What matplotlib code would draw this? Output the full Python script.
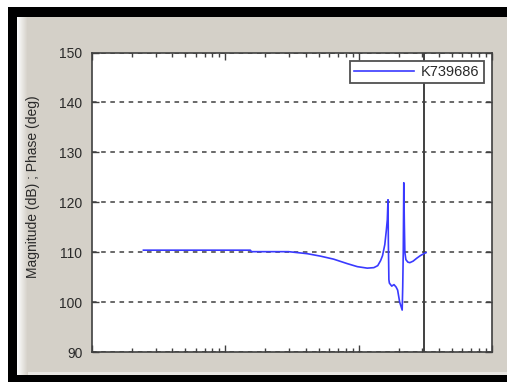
import matplotlib
matplotlib.use("Agg")
import matplotlib.pyplot as plt
from matplotlib.patches import Rectangle
import numpy as np

# ---- data ----
freq = [2.43, 15.4, 15.7, 29.8, 41.1, 51.8, 64.9, 82.2, 97.7, 116, 130, 139, 146,
        151, 157, 161, 164, 166, 167, 168.5, 170, 177, 184, 191, 196, 203, 212,
        214, 216, 218, 220, 222, 226, 234, 242, 256, 273, 290, 308, 320]
mag = [110.4, 110.4, 110.1, 110.1, 109.7, 109.2, 108.6, 107.7, 107.1, 106.8, 106.9,
       107.3, 108.3, 109.3, 111.5, 114.2, 116.5, 120.5, 112.0, 104.5, 103.8, 103.2,
       103.5, 103.0, 102.4, 100.0, 98.4, 103.0, 110.0, 123.9, 116.0, 110.0, 108.5,
       108.0, 107.9, 108.2, 108.8, 109.3, 109.7, 109.9]
series_name = "K739686"
marker_freq = 308
y_ticks = [90, 100, 110, 120, 130, 140, 150]
x_limits = [1, 1000]
y_limits = [90, 150]
y_label = "Magnitude (dB) ; Phase (deg)"

W, H = 507, 382
BG = "#d4d0c8"
fig = plt.figure(figsize=(W / 100, H / 100), dpi=100)
fig.patch.set_facecolor(BG)


def prect(x0, y0, x1, y1, color):
    fig.add_artist(Rectangle((x0 / W, 1 - y1 / H), (x1 - x0) / W, (y1 - y0) / H,
                             transform=fig.transFigure, facecolor=color,
                             edgecolor="none", zorder=-5))


# window frame decoration
prect(0, 0, W, 7, "white")
prect(0, 0, 8, H, "white")
prect(8, 7, W, 17, "black")
prect(8, 7, 17, H, "black")
prect(8, 375, W, H, "black")
prect(17, 372, W, 375, "#e8e6e2")
grad = np.linspace(0, 1, 11)
c0 = np.array([0.99, 0.99, 0.99])
c1 = np.array([212, 208, 200]) / 255
for i, t in enumerate(grad):
    prect(17 + i, 17, 18 + i, 375, tuple(c0 * (1 - t) + c1 * t))

ax = fig.add_axes([92 / W, 1 - 352 / H, 400 / W, 299.5 / H])
ax.set_facecolor("white")
ax.plot(freq, mag, color="#3a3aff", lw=1.2, label=series_name, zorder=3)
ax.axvline(marker_freq, color="#404040", lw=1.4, zorder=2)

ax.set_xscale("log")
ax.set_xlim(x_limits)
ax.set_ylim(y_limits)
ax.set_yticks(y_ticks)
ax.set_yticklabels([str(v) for v in y_ticks])
ax.xaxis.set_major_formatter(matplotlib.ticker.NullFormatter())
ax.xaxis.set_minor_formatter(matplotlib.ticker.NullFormatter())
ax.yaxis.grid(True, color="#404040", linestyle=(0, (3, 3)), lw=1.1)
ax.xaxis.grid(False)

ax.tick_params(axis="both", which="major", direction="in", length=5, width=1,
               color="#404040", top=True, right=True)
ax.tick_params(axis="x", which="minor", direction="in", length=3, width=1,
               color="#404040", top=True, bottom=True)
ax.tick_params(axis="y", which="major", labelsize=10, labelcolor="#2a2a2a", pad=7)
for lab in ax.get_yticklabels():
    lab.set_family("Liberation Sans")

for s in ax.spines.values():
    s.set_color("#404040")
    s.set_linewidth(1.2)

fig.text(33 / W, 1 - 187 / H, y_label, rotation=90, ha="center", va="center",
         fontsize=10, color="#2a2a2a", family="Liberation Sans")

leg = ax.legend(loc="upper right", bbox_to_anchor=(484 / W, 1 - 60.5 / H),
                bbox_transform=fig.transFigure, fancybox=False, framealpha=1,
                edgecolor="#505050", handlelength=4.1, handletextpad=0.5,
                borderpad=0.3, borderaxespad=0,
                prop={"family": "Liberation Sans", "size": 10.5})
leg.get_frame().set_linewidth(1.3)
for t in leg.get_texts():
    t.set_color("#2a2a2a")

fig.savefig("out.png", dpi=100, facecolor=fig.get_facecolor())
